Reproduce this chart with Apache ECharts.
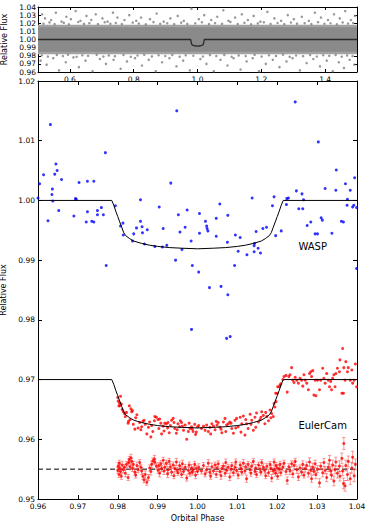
<!DOCTYPE html>
<html><head><meta charset="utf-8">
<script src="https://cdn.jsdelivr.net/npm/echarts@6/dist/echarts.min.js"></script>
<style>html,body{margin:0;padding:0;background:#fff}#c{width:374px;height:522px}</style>
</head><body><div id="c"></div>
<script>
// ---------- DATA ----------
// Top panel (full phase coverage)
const topXTicks = [0.6, 0.8, 1.0, 1.2, 1.4];
// dense point cloud drawn as bands: [phaseStart, phaseEnd, fluxLow, fluxHigh]
const topBandOuter = [[0.5, 1.5, 0.9818, 1.0182]];
const topBandCore = [[0.5, 1.5, 0.9850, 1.0150]];
const topOutliers = [
[0.513,1.031],[0.522,1.026],[0.541,1.024],[0.556,1.033],[0.574,1.022],[0.589,1.028],[0.603,1.025],[0.618,1.035],[0.633,1.023],[0.652,1.029],
[0.667,1.024],[0.681,1.031],[0.702,1.026],[0.718,1.022],[0.735,1.033],[0.749,1.027],[0.771,1.024],[0.786,1.030],[0.808,1.023],[0.823,1.027],
[0.851,1.025],[0.872,1.032],[0.894,1.022],[0.915,1.026],[0.938,1.029],[0.957,1.023],[0.981,1.038],[1.004,1.025],[1.021,1.030],[1.043,1.024],
[1.062,1.028],[1.081,1.036],[1.097,1.023],[1.118,1.027],[1.139,1.031],[1.158,1.024],[1.176,1.029],[1.197,1.022],[1.219,1.034],[1.241,1.026],
[1.262,1.023],[1.283,1.030],[1.302,1.025],[1.327,1.028],[1.349,1.023],[1.368,1.033],[1.387,1.027],[1.409,1.024],[1.428,1.031],[1.446,1.026],
[1.463,1.035],[1.481,1.024],[1.494,1.029],
[0.508,0.974],[0.527,0.969],[0.548,0.977],[0.566,0.962],[0.587,0.972],[0.611,0.978],[0.628,0.966],[0.649,0.974],[0.671,0.961],[0.694,0.976],
[0.713,0.970],[0.737,0.975],[0.759,0.964],[0.779,0.973],[0.804,0.977],[0.826,0.968],[0.847,0.975],[0.869,0.961],[0.889,0.972],[0.912,0.977],
[0.934,0.967],[0.955,0.974],[0.976,0.962],[1.009,0.976],[1.028,0.970],[1.051,0.961],[1.072,0.975],[1.094,0.968],[1.113,0.977],[1.135,0.963],
[1.154,0.973],[1.173,0.977],[1.193,0.961],[1.214,0.970],[1.236,0.975],[1.257,0.966],[1.279,0.973],[1.298,0.977],[1.321,0.962],[1.342,0.971],
[1.363,0.976],[1.384,0.967],[1.405,0.974],[1.424,0.961],[1.443,0.972],[1.459,0.965],[1.477,0.975],[1.492,0.969],
// edge speckles of the dense cloud
[0.517,1.0195],[0.536,1.0210],[0.552,1.0190],[0.581,1.0205],[0.597,1.0188],[0.626,1.0215],[0.644,1.0192],[0.661,1.0201],[0.688,1.0189],[0.709,1.0212],
[0.727,1.0194],[0.744,1.0203],[0.763,1.0190],[0.797,1.0208],[0.816,1.0196],[0.838,1.0187],[0.862,1.0214],[0.883,1.0193],[0.905,1.0200],[0.927,1.0189],
[0.949,1.0207],[0.968,1.0192],[0.993,1.0199],[1.014,1.0211],[1.036,1.0190],[1.055,1.0202],[1.077,1.0193],[1.103,1.0216],[1.126,1.0191],[1.147,1.0205],
[1.168,1.0188],[1.189,1.0198],[1.208,1.0211],[1.229,1.0192],[1.251,1.0203],[1.272,1.0189],[1.293,1.0209],[1.312,1.0195],[1.336,1.0201],[1.357,1.0190],
[1.378,1.0213],[1.398,1.0194],[1.417,1.0200],[1.437,1.0188],[1.455,1.0210],[1.472,1.0196],[1.488,1.0203],
[0.512,0.9805],[0.531,0.9790],[0.559,0.9810],[0.578,0.9796],[0.594,0.9812],[0.621,0.9787],[0.639,0.9806],[0.657,0.9799],[0.684,0.9811],[0.705,0.9790],
[0.722,0.9804],[0.741,0.9795],[0.768,0.9809],[0.791,0.9788],[0.812,0.9803],[0.833,0.9812],[0.857,0.9792],[0.878,0.9806],[0.899,0.9797],[0.921,0.9810],
[0.944,0.9789],[0.963,0.9805],[0.987,0.9800],[1.017,0.9791],[1.039,0.9808],[1.059,0.9796],[1.084,0.9810],[1.107,0.9788],[1.129,0.9804],[1.151,0.9797],
[1.179,0.9811],[1.201,0.9790],[1.224,0.9806],[1.246,0.9798],[1.268,0.9812],[1.289,0.9787],[1.309,0.9803],[1.331,0.9795],[1.353,0.9809],[1.374,0.9791],
[1.394,0.9806],[1.413,0.9799],[1.433,0.9810],[1.452,0.9789],[1.469,0.9804],[1.486,0.9796]
];
const topModelPhase = [0.5, 0.9785, 0.9800, 0.9815, 0.9840, 0.9900, 1.0000, 1.0100, 1.0160, 1.0185, 1.0200, 1.0215, 1.5];
const topModelFlux  = [1.0, 1.0, 0.9973, 0.9946, 0.9932, 0.9923, 0.9919, 0.9923, 0.9932, 0.9946, 0.9973, 1.0, 1.0];

// Main panel
const modelPhase = [0.96,0.9785,0.9790,0.9795,0.9800,0.9805,0.9810,0.9815,0.9820,0.9830,0.9840,0.9860,0.9880,0.9900,0.9930,0.9960,1.0000,1.0040,1.0070,1.0100,1.0120,1.0140,1.0160,1.0170,1.0180,1.0185,1.0190,1.0195,1.0200,1.0205,1.0210,1.0215,1.04];
const waspModel  = [1.0,1.0,0.9992,0.9982,0.9973,0.9964,0.9955,0.9946,0.9941,0.9936,0.9932,0.9928,0.9925,0.9923,0.9921,0.9920,0.9919,0.9920,0.9921,0.9923,0.9925,0.9928,0.9932,0.9936,0.9941,0.9946,0.9955,0.9964,0.9973,0.9982,0.9992,1.0,1.0];
const eulerModel = [0.97,0.97,0.9692,0.9682,0.9673,0.9664,0.9655,0.9646,0.9641,0.9636,0.9632,0.9628,0.9625,0.9623,0.9621,0.9620,0.9619,0.9620,0.9621,0.9623,0.9625,0.9628,0.9632,0.9636,0.9641,0.9646,0.9655,0.9664,0.9673,0.9682,0.9692,0.97,0.97];
const residLevel = [[0.96,0.955],[1.04,0.955]];

const waspPoints = [
[0.9600,1.0004],[0.9604,1.0028],[0.9614,1.0043],[0.9631,1.0127],[0.9625,0.9966],[0.9636,1.0019],[0.9635,1.0010],[0.9637,0.9999],[0.9642,1.0044],[0.9645,1.0061],
[0.9648,1.0050],[0.9652,0.9983],[0.9659,1.0035],[0.9690,0.9974],[0.9694,1.0003],[0.9696,1.0002],[0.9703,1.0030],[0.9721,0.9964],[0.9724,0.9981],[0.9724,1.0032],
[0.9735,0.9965],[0.9740,0.9964],[0.9740,1.0032],[0.9749,0.9983],[0.9749,0.9976],[0.9759,0.9988],[0.9764,0.9976],[0.9769,1.0080],[0.9771,0.9891],[0.9794,0.9991],
[0.9807,0.9957],[0.9813,0.9962],[0.9814,0.9942],[0.9837,0.9932],[0.9840,0.9944],[0.9847,0.9954],[0.9857,1.0001],[0.9857,0.9965],[0.9861,0.9956],[0.9862,0.9946],
[0.9867,0.9927],[0.9874,0.9951],[0.9893,0.9923],[0.9904,0.9989],[0.9912,0.9922],[0.9914,0.9953],[0.9923,0.9925],[0.9933,1.0029],[0.9945,0.9900],[0.9948,1.0150],
[0.9952,0.9976],[0.9956,0.9947],[0.9961,0.9918],[0.9969,0.9955],[0.9974,0.9984],[0.9984,0.9932],[0.9985,0.9784],[0.9987,0.9891],[1.0003,0.9880],[1.0005,0.9978],
[1.0005,0.9945],[1.0020,0.9965],[1.0023,0.9957],[1.0024,0.9953],[1.0026,0.9949],[1.0030,0.9854],[1.0047,0.9970],[1.0047,0.9940],[1.0056,0.9994],[1.0059,0.9856],
[1.0073,0.9769],[1.0076,0.9842],[1.0076,0.9975],[1.0075,0.9930],[1.0082,0.9772],[1.0093,0.9891],[1.0095,0.9942],[1.0102,0.9915],[1.0107,0.9938],[1.0124,0.9909],
[1.0137,1.0004],[1.0142,0.9924],[1.0142,0.9914],[1.0143,0.9928],[1.0147,0.9948],[1.0152,0.9920],[1.0158,0.9912],[1.0164,0.9953],[1.0173,0.9955],[1.0188,0.9991],
[1.0192,1.0006],[1.0196,0.9941],[1.0210,0.9949],[1.0223,0.9993],[1.0224,1.0003],[1.0228,1.0004],[1.0245,1.0165],[1.0248,1.0016],[1.0254,0.9986],[1.0262,1.0011],
[1.0264,0.9986],[1.0266,1.0001],[1.0275,0.9958],[1.0284,0.9964],[1.0295,0.9944],[1.0301,0.9944],[1.0303,1.0098],[1.0310,0.9971],[1.0313,0.9967],[1.0320,1.0020],
[1.0337,0.9945],[1.0347,1.0017],[1.0348,1.0051],[1.0361,0.9965],[1.0366,0.9964],[1.0371,1.0028],[1.0376,1.0002],[1.0383,1.0017],[1.0389,0.9989],[1.0392,0.9992],
[1.0394,1.0038],[1.0399,0.9886],[1.0375,0.9992],[1.0399,0.9988]
];

const eulerPoints = [
[0.9800,0.9670],[0.9801,0.9664],[0.9803,0.9656],[0.9804,0.9661],[0.9805,0.9656],[0.9807,0.9672],[0.9809,0.9659],[0.9811,0.9650],[0.9814,0.9646],[0.9817,0.9643],
[0.9819,0.9638],[0.9822,0.9645],[0.9826,0.9627],[0.9827,0.9630],[0.9829,0.9656],[0.9831,0.9633],[0.9833,0.9651],[0.9835,0.9646],[0.9837,0.9648],[0.9839,0.9625],
[0.9843,0.9617],[0.9845,0.9636],[0.9848,0.9641],[0.9851,0.9619],[0.9855,0.9628],[0.9858,0.9616],[0.9860,0.9621],[0.9863,0.9630],[0.9866,0.9632],[0.9869,0.9625],
[0.9873,0.9609],[0.9877,0.9620],[0.9880,0.9629],[0.9883,0.9604],[0.9885,0.9623],[0.9888,0.9613],[0.9892,0.9631],[0.9893,0.9638],[0.9897,0.9637],[0.9901,0.9633],
[0.9903,0.9618],[0.9905,0.9634],[0.9908,0.9627],[0.9910,0.9609],[0.9914,0.9622],[0.9916,0.9614],[0.9918,0.9627],[0.9922,0.9626],[0.9925,0.9619],[0.9926,0.9628],
[0.9929,0.9611],[0.9932,0.9623],[0.9935,0.9632],[0.9939,0.9635],[0.9941,0.9628],[0.9943,0.9618],[0.9947,0.9610],[0.9949,0.9616],[0.9951,0.9626],[0.9955,0.9621],
[0.9957,0.9631],[0.9960,0.9628],[0.9962,0.9622],[0.9965,0.9615],[0.9969,0.9624],[0.9973,0.9600],[0.9977,0.9613],[0.9979,0.9627],[0.9981,0.9618],[0.9985,0.9621],
[0.9987,0.9617],[0.9989,0.9613],[0.9993,0.9625],[0.9995,0.9608],[0.9997,0.9612],[1.0000,0.9621],
[1.0003,0.9623],[1.0010,0.9618],[1.0015,0.9622],[1.0019,0.9615],[1.0023,0.9624],[1.0027,0.9613],[1.0031,0.9620],[1.0033,0.9609],[1.0036,0.9626],[1.0040,0.9622],
[1.0044,0.9616],[1.0047,0.9630],[1.0049,0.9624],[1.0052,0.9628],[1.0056,0.9620],[1.0059,0.9617],[1.0061,0.9611],[1.0065,0.9629],[1.0069,0.9635],[1.0071,0.9613],
[1.0073,0.9624],[1.0077,0.9626],[1.0081,0.9629],[1.0084,0.9627],[1.0086,0.9618],[1.0090,0.9610],[1.0094,0.9632],[1.0096,0.9619],[1.0098,0.9635],[1.0102,0.9621],
[1.0107,0.9637],[1.0109,0.9612],[1.0111,0.9626],[1.0115,0.9639],[1.0119,0.9607],[1.0121,0.9633],[1.0123,0.9626],[1.0127,0.9618],[1.0132,0.9642],[1.0134,0.9625],
[1.0136,0.9632],[1.0140,0.9615],[1.0144,0.9637],[1.0146,0.9620],[1.0148,0.9644],[1.0153,0.9629],[1.0157,0.9633],[1.0159,0.9637],[1.0161,0.9646],[1.0165,0.9640],
[1.0169,0.9626],[1.0171,0.9645],[1.0174,0.9638],[1.0178,0.9631],[1.0182,0.9649],[1.0184,0.9636],[1.0186,0.9643],[1.0190,0.9638],[1.0192,0.9660],[1.0194,0.9654],
[1.0196,0.9677],[1.0197,0.9663],[1.0200,0.9677],[1.0201,0.9688],[1.0205,0.9688],[1.0207,0.9691],[1.0209,0.9693],[1.0214,0.9700],[1.0217,0.9705],[1.0222,0.9707],
[1.0225,0.9679],[1.0229,0.9705],
[1.0232,0.9708],[1.0236,0.9720],[1.0239,0.9699],[1.0242,0.9695],[1.0245,0.9704],[1.0249,0.9699],[1.0253,0.9694],[1.0257,0.9702],[1.0261,0.9699],[1.0264,0.9689],
[1.0267,0.9708],[1.0270,0.9699],[1.0274,0.9694],[1.0278,0.9683],[1.0281,0.9710],[1.0284,0.9713],[1.0286,0.9705],[1.0289,0.9715],[1.0292,0.9674],[1.0295,0.9699],
[1.0297,0.9673],[1.0301,0.9699],[1.0306,0.9683],[1.0309,0.9699],[1.0314,0.9719],[1.0317,0.9702],[1.0320,0.9694],[1.0324,0.9710],[1.0328,0.9699],[1.0331,0.9688],
[1.0334,0.9697],[1.0336,0.9683],[1.0339,0.9702],[1.0342,0.9708],[1.0345,0.9688],[1.0347,0.9710],[1.0351,0.9719],[1.0356,0.9713],[1.0357,0.9733],[1.0362,0.9677],
[1.0364,0.9752],[1.0366,0.9677],[1.0367,0.9720],[1.0370,0.9699],[1.0372,0.9730],[1.0376,0.9713],[1.0378,0.9720],[1.0383,0.9699],[1.0387,0.9716],[1.0389,0.9694],
[1.0393,0.9699],[1.0396,0.9726],[1.0399,0.9688]
];
// residuals (offset level 0.955), one per EulerCam point, and their errors
const eulerResid = [
0.9548,0.9555,0.9541,0.9560,0.9552,0.9546,0.9538,0.9557,0.9549,0.9553,0.9543,0.9558,0.9536,0.9561,0.9566,0.9554,0.9569,0.9563,0.9551,0.9558,
0.9545,0.9540,0.9556,0.9549,0.9561,0.9553,0.9547,0.9538,0.9532,0.9541,0.9528,0.9536,0.9552,0.9546,0.9558,0.9564,0.9567,0.9562,0.9555,0.9548,
0.9556,0.9543,0.9559,0.9551,0.9565,0.9547,0.9553,0.9560,0.9542,0.9549,0.9563,0.9554,0.9545,0.9557,0.9539,0.9551,0.9562,0.9548,0.9544,0.9556,
0.9550,0.9541,0.9559,0.9546,0.9553,0.9535,0.9548,0.9557,0.9543,0.9552,0.9545,0.9549,0.9558,0.9540,0.9551,0.9546,0.9553,0.9547,0.9556,0.9542,
0.9549,0.9560,0.9545,0.9538,0.9554,0.9547,0.9557,0.9541,0.9552,0.9559,0.9546,0.9539,0.9551,0.9555,0.9543,0.9561,0.9548,0.9553,0.9537,0.9550,
0.9556,0.9544,0.9553,0.9562,0.9548,0.9540,0.9557,0.9551,0.9545,0.9560,0.9547,0.9554,0.9534,0.9558,0.9549,0.9543,0.9555,0.9563,0.9546,0.9552,
0.9541,0.9557,0.9550,0.9545,0.9561,0.9553,0.9548,0.9539,0.9555,0.9544,0.9558,0.9551,0.9535,0.9547,0.9562,0.9549,0.9543,0.9556,0.9552,0.9538,
0.9550,0.9558,0.9544,0.9553,0.9560,0.9546,0.9531,0.9554,0.9547,0.9559,0.9542,0.9556,0.9563,0.9549,0.9537,0.9552,0.9545,0.9558,0.9540,0.9551,
0.9556,0.9543,0.9562,0.9548,0.9534,0.9553,0.9546,0.9559,0.9541,0.9550,0.9527,0.9555,0.9544,0.9561,0.9548,0.9536,0.9553,0.9565,0.9547,0.9540,
0.9557,0.9530,0.9549,0.9562,0.9543,0.9555,0.9538,0.9568,0.9547,0.9526,0.9593,0.9522,0.9556,0.9541,0.9563,0.9534,0.9552,0.9570,0.9539,0.9558
];
const eulerErr = [
0.0005,0.0006,0.0005,0.0005,0.0006,0.0005,0.0005,0.0006,0.0005,0.0005,0.0006,0.0005,0.0005,0.0006,0.0005,0.0005,0.0006,0.0005,0.0005,0.0005,
0.0005,0.0005,0.0006,0.0005,0.0005,0.0005,0.0006,0.0005,0.0005,0.0006,0.0005,0.0005,0.0005,0.0006,0.0005,0.0005,0.0006,0.0005,0.0005,0.0005,
0.0005,0.0006,0.0005,0.0005,0.0005,0.0006,0.0005,0.0005,0.0006,0.0005,0.0005,0.0005,0.0006,0.0005,0.0005,0.0005,0.0006,0.0005,0.0005,0.0006,
0.0005,0.0005,0.0006,0.0005,0.0005,0.0005,0.0006,0.0005,0.0005,0.0006,0.0005,0.0005,0.0005,0.0006,0.0005,0.0005,0.0006,0.0005,0.0005,0.0005,
0.0005,0.0006,0.0005,0.0005,0.0006,0.0005,0.0005,0.0005,0.0006,0.0005,0.0005,0.0006,0.0005,0.0005,0.0005,0.0006,0.0005,0.0005,0.0006,0.0005,
0.0005,0.0005,0.0006,0.0005,0.0005,0.0006,0.0005,0.0005,0.0005,0.0006,0.0005,0.0005,0.0006,0.0005,0.0005,0.0005,0.0006,0.0005,0.0005,0.0006,
0.0005,0.0005,0.0006,0.0005,0.0005,0.0006,0.0005,0.0005,0.0005,0.0006,0.0005,0.0005,0.0006,0.0005,0.0005,0.0006,0.0005,0.0005,0.0006,0.0005,
0.0006,0.0005,0.0005,0.0006,0.0005,0.0005,0.0006,0.0005,0.0006,0.0005,0.0006,0.0006,0.0005,0.0006,0.0006,0.0005,0.0006,0.0006,0.0005,0.0006,
0.0006,0.0006,0.0007,0.0006,0.0006,0.0007,0.0006,0.0006,0.0007,0.0006,0.0007,0.0006,0.0007,0.0007,0.0006,0.0007,0.0007,0.0008,0.0007,0.0007,
0.0008,0.0008,0.0007,0.0008,0.0008,0.0009,0.0008,0.0009,0.0008,0.0009,0.0010,0.0009,0.0009,0.0010,0.0009,0.0010,0.0009,0.0010,0.0010,0.0009
];
const labelTexts = ['WASP', 'EulerCam'];
const labelPos = [[1.0253, 0.99145], [1.0253, 0.96147]];

// ---------- CHART ----------
const FONT = 'DejaVu Sans';
const chart = echarts.init(document.getElementById('c'), null, {renderer: 'svg'});

function zipXY(xs, ys){ const n = Math.min(xs.length, ys.length); const o = []; for (let i = 0; i < n; i++) o.push([xs[i], ys[i]]); return o; }
const residData = [];
for (let i = 0; i < Math.min(eulerPoints.length, eulerResid.length, eulerErr.length); i++) {
  residData.push([eulerPoints[i][0], eulerResid[i], eulerErr[i]]);
}
const labelData = labelPos.map((p, i) => [p[0], p[1], i]);

const lineBlack = {color: '#000', width: 1};
function valAxis(o) {
  const base = {
    type: 'value', scale: true,
    axisLine: {show: true, onZero: false, lineStyle: lineBlack},
    axisTick: {show: true, inside: true, length: 4, lineStyle: lineBlack},
    axisLabel: {show: true, color: '#000', fontFamily: FONT, fontSize: 7.5, margin: 3},
    splitLine: {show: false},
    nameTextStyle: {color: '#000', fontFamily: FONT, fontSize: 8}
  };
  const r = Object.assign({}, base, o);
  if (o.axisTick) r.axisTick = Object.assign({}, base.axisTick, o.axisTick);
  if (o.axisLabel) r.axisLabel = Object.assign({}, base.axisLabel, o.axisLabel);
  return r;
}

function bandRender(params, api) {
  const p0 = api.coord([api.value(0), api.value(3)]);
  const p1 = api.coord([api.value(1), api.value(2)]);
  return {type: 'rect', shape: {x: p0[0], y: p0[1], width: p1[0] - p0[0], height: p1[1] - p0[1]},
          style: {fill: api.visual('color')}};
}
function errRender(params, api) {
  const x = api.value(0), y = api.value(1), e = api.value(2);
  const t = api.coord([x, y + e]), b = api.coord([x, y - e]);
  const c = 1.6, st = {stroke: 'rgba(255,70,70,0.55)', lineWidth: 1};
  return {type: 'group', children: [
    {type: 'line', shape: {x1: t[0], y1: t[1], x2: b[0], y2: b[1]}, style: st},
    {type: 'line', shape: {x1: t[0] - c, y1: t[1], x2: t[0] + c, y2: t[1]}, style: st},
    {type: 'line', shape: {x1: b[0] - c, y1: b[1], x2: b[0] + c, y2: b[1]}, style: st}
  ]};
}
function textRender(params, api) {
  const p = api.coord([api.value(0), api.value(1)]);
  return {type: 'text', x: p[0], y: p[1],
          style: {text: labelTexts[api.value(2)], fill: '#000', fontFamily: FONT, fontSize: 10,
                  align: 'left', verticalAlign: 'bottom'}};
}

const option = {
  animation: false,
  backgroundColor: '#fff',
  grid: [
    {left: 38, top: 7, width: 319, height: 65, outerBoundsMode: 'none', containLabel: false},
    {left: 38, top: 81, width: 319, height: 418, outerBoundsMode: 'none', containLabel: false}
  ],
  xAxis: [
    valAxis({gridIndex: 0, min: 0.5, max: 1.5,
      axisTick: {customValues: topXTicks, length: 3},
      axisLabel: {customValues: topXTicks, formatter: v => v.toFixed(1)}}),
    valAxis({gridIndex: 1, min: 0.96, max: 1.04, interval: 0.01,
      axisLabel: {formatter: v => v.toFixed(2)},
      name: 'Orbital Phase', nameLocation: 'middle', nameGap: 13}),
    valAxis({gridIndex: 0, position: 'top', min: 0.5, max: 1.5,
      axisTick: {customValues: topXTicks, length: 3}, axisLabel: {show: false}}),
    valAxis({gridIndex: 1, position: 'top', min: 0.96, max: 1.04, interval: 0.01,
      axisLabel: {show: false}})
  ],
  yAxis: [
    valAxis({gridIndex: 0, min: 0.96, max: 1.04, interval: 0.01,
      axisTick: {length: 3},
      axisLabel: {formatter: v => v.toFixed(2), margin: 2},
      name: 'Relative Flux', nameLocation: 'middle', nameGap: 22}),
    valAxis({gridIndex: 1, min: 0.95, max: 1.02, interval: 0.01,
      axisLabel: {formatter: v => v.toFixed(2)},
      name: 'Relative Flux', nameLocation: 'middle', nameGap: 22}),
    valAxis({gridIndex: 0, position: 'right', min: 0.96, max: 1.04, interval: 0.01,
      axisTick: {length: 3}, axisLabel: {show: false}}),
    valAxis({gridIndex: 1, position: 'right', min: 0.95, max: 1.02, interval: 0.01,
      axisLabel: {show: false}})
  ],
  series: [
    // top panel
    {type: 'custom', xAxisIndex: 0, yAxisIndex: 0, renderItem: bandRender, data: topBandOuter,
     encode: {x: [0, 1], y: [2, 3]}, itemStyle: {color: '#a2a2a2'}, silent: true, z: 1},
    {type: 'custom', xAxisIndex: 0, yAxisIndex: 0, renderItem: bandRender, data: topBandCore,
     encode: {x: [0, 1], y: [2, 3]}, itemStyle: {color: '#8a8a8a'}, silent: true, z: 1},
    {type: 'scatter', xAxisIndex: 0, yAxisIndex: 0, data: topOutliers, symbolSize: 2.5,
     itemStyle: {color: '#808080'}, silent: true, z: 2},
    {type: 'line', xAxisIndex: 0, yAxisIndex: 0, data: zipXY(topModelPhase, topModelFlux),
     symbol: 'none', lineStyle: {color: '#2a2a2a', width: 1.3}, silent: true, z: 3},
    // main panel
    {type: 'scatter', xAxisIndex: 1, yAxisIndex: 1, data: waspPoints, symbolSize: 3,
     itemStyle: {color: '#0000ff'}, silent: true, z: 2},
    {type: 'line', xAxisIndex: 1, yAxisIndex: 1, data: zipXY(modelPhase, waspModel),
     symbol: 'none', lineStyle: {color: '#000', width: 1}, silent: true, z: 3},
    {type: 'scatter', xAxisIndex: 1, yAxisIndex: 1, data: eulerPoints, symbolSize: 3,
     itemStyle: {color: '#ff0000'}, silent: true, z: 2},
    {type: 'line', xAxisIndex: 1, yAxisIndex: 1, data: zipXY(modelPhase, eulerModel),
     symbol: 'none', lineStyle: {color: '#000', width: 1}, silent: true, z: 3},
    {type: 'line', xAxisIndex: 1, yAxisIndex: 1, data: residLevel,
     symbol: 'none', lineStyle: {color: '#000', width: 1, type: [5, 3]}, silent: true, z: 1},
    {type: 'custom', xAxisIndex: 1, yAxisIndex: 1, renderItem: errRender, data: residData,
     encode: {x: 0, y: 1}, silent: true, z: 2, clip: true},
    {type: 'scatter', xAxisIndex: 1, yAxisIndex: 1, data: residData.map(d => [d[0], d[1]]), symbolSize: 3,
     itemStyle: {color: '#ff0000'}, silent: true, z: 3},
    {type: 'custom', xAxisIndex: 1, yAxisIndex: 1, renderItem: textRender, data: labelData,
     encode: {x: 0, y: 1}, silent: true, z: 4}
  ]
};
chart.setOption(option);
</script>
</body></html>
